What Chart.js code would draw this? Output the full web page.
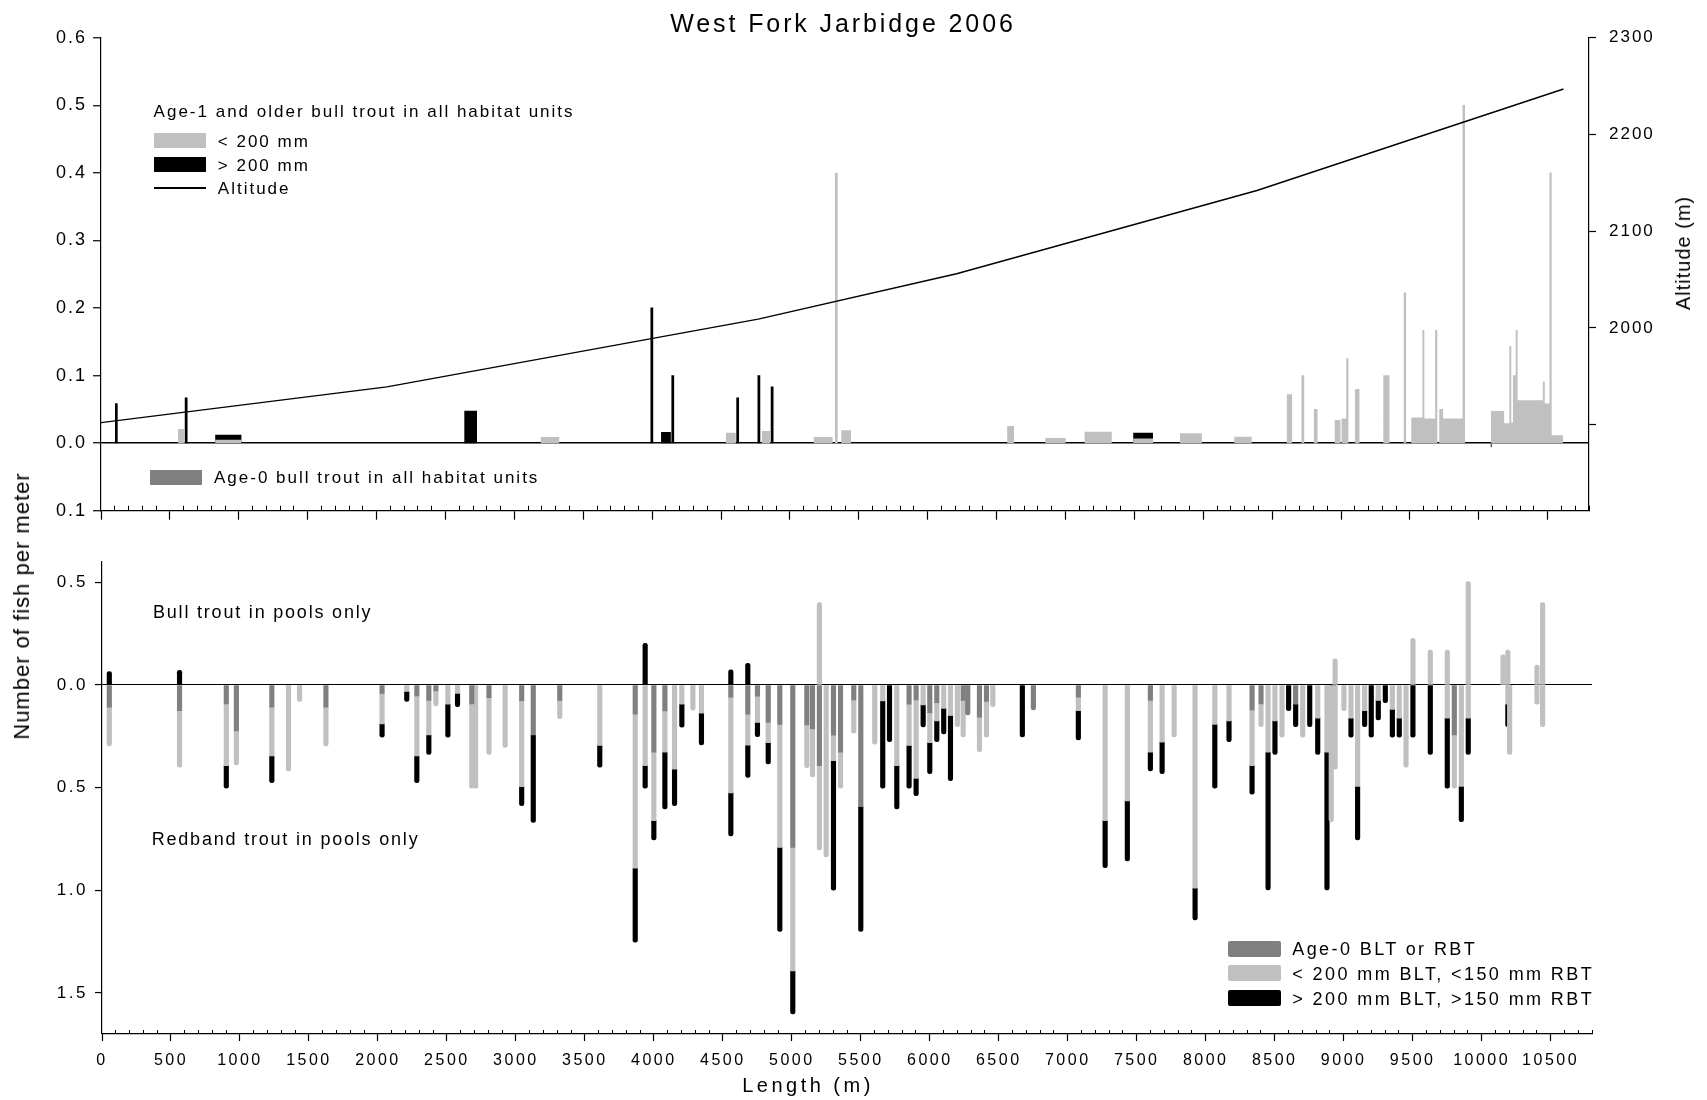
<!DOCTYPE html>
<html>
<head>
<meta charset="utf-8">
<title>West Fork Jarbidge 2006</title>
<script src="https://cdn.jsdelivr.net/npm/chart.js@4.4.1/dist/chart.umd.min.js"></script>
<style>
  html, body { margin:0; padding:0; background:#fff; }
  body { position:relative; width:1707px; height:1100px; overflow:hidden; font-family:"Liberation Sans", Arial, sans-serif; color:#000; }
  canvas { position:absolute; left:0; }
  #topChart { top:0; }
  #bottomChart { top:530px; }
  .txt { position:absolute; white-space:nowrap; line-height:1; z-index:2; }
  .sw { position:absolute; z-index:2; }
</style>
</head>
<body>
<canvas id="topChart" width="1707" height="530"></canvas>
<canvas id="bottomChart" width="1707" height="570"></canvas>

<div class="txt" style="left:843px; top:10.5px; font-size:25px; letter-spacing:2.9px; transform:translateX(-50%);">West Fork Jarbidge 2006</div>
<div class="txt" style="left:22px; top:606px; font-size:22px; letter-spacing:1px; transform:translate(-50%,-50%) rotate(-90deg);">Number of fish per meter</div>
<div class="txt" style="left:1683px; top:253px; font-size:20px; letter-spacing:1px; transform:translate(-50%,-50%) rotate(-90deg);">Altitude (m)</div>
<div class="txt" style="left:808px; top:1085px; font-size:20px; letter-spacing:3.5px; transform:translate(-50%,-50%);">Length (m)</div>

<!-- top panel legend -->
<div class="txt" style="left:153.6px; top:102.7px; font-size:17px; letter-spacing:2px;">Age-1 and older bull trout in all habitat units</div>
<div class="sw" style="left:153.6px; top:133.3px; width:52px; height:15px; background:#c0c0c0;"></div>
<div class="txt" style="left:217.8px; top:132.7px; font-size:17px; letter-spacing:2px;">&lt; 200 mm</div>
<div class="sw" style="left:153.6px; top:157px; width:52px; height:14.7px; background:#000;"></div>
<div class="txt" style="left:217.8px; top:156.7px; font-size:17px; letter-spacing:2px;">&gt; 200 mm</div>
<div class="sw" style="left:153.6px; top:187px; width:52px; height:1.5px; background:#000;"></div>
<div class="txt" style="left:217.8px; top:179.7px; font-size:17px; letter-spacing:2px;">Altitude</div>
<div class="sw" style="left:149.8px; top:470px; width:52px; height:15px; background:#808080;"></div>
<div class="txt" style="left:214px; top:469px; font-size:17px; letter-spacing:2px;">Age-0 bull trout in all habitat units</div>

<!-- bottom panel texts -->
<div class="txt" style="left:153px; top:602.9px; font-size:18px; letter-spacing:1.8px;">Bull trout in pools only</div>
<div class="txt" style="left:151.7px; top:830.2px; font-size:18px; letter-spacing:1.8px;">Redband trout in pools only</div>
<div class="sw" style="left:1227.7px; top:941px; width:53px; height:15.5px; background:#808080; border-radius:2px;"></div>
<div class="txt" style="left:1292.3px; top:940.2px; font-size:18px; letter-spacing:2.4px;">Age-0 BLT or RBT</div>
<div class="sw" style="left:1227.7px; top:965px; width:53px; height:16px; background:#c0c0c0; border-radius:2px;"></div>
<div class="txt" style="left:1292.3px; top:964.5px; font-size:18px; letter-spacing:2.4px;">&lt; 200 mm BLT, &lt;150 mm RBT</div>
<div class="sw" style="left:1227.7px; top:990px; width:53px; height:15.7px; background:#000; border-radius:2px;"></div>
<div class="txt" style="left:1292.3px; top:989.5px; font-size:18px; letter-spacing:2.4px;">&gt; 200 mm BLT, &gt;150 mm RBT</div>

<script>
// ---------------- DATA ----------------
// Axis ticks
const lengthTicks = [0,500,1000,1500,2000,2500,3000,3500,4000,4500,5000,5500,6000,6500,7000,7500,8000,8500,9000,9500,10000,10500];
const lengthMinorTicks = [100,200,300,400,600,700,800,900,1100,1200,1300,1400,1600,1700,1800,1900,2100,2200,2300,2400,2600,2700,2800,2900,3100,3200,3300,3400,3600,3700,3800,3900,4100,4200,4300,4400,4600,4700,4800,4900,5100,5200,5300,5400,5600,5700,5800,5900,6100,6200,6300,6400,6600,6700,6800,6900,7100,7200,7300,7400,7600,7700,7800,7900,8100,8200,8300,8400,8600,8700,8800,8900,9100,9200,9300,9400,9600,9700,9800,9900,10100,10200,10300,10400,10600,10700,10800];
const topYTicks = [-0.1, 0.0, 0.1, 0.2, 0.3, 0.4, 0.5, 0.6];
const altitudeTicks = [1900, 2000, 2100, 2200, 2300];
const bottomYTicks = [-1.5, -1.0, -0.5, 0.0, 0.5];

// Altitude profile (m) along the stream length (m)
const altLength = [0, 2075, 4770, 6210, 8390, 10615];
const altitude  = [1902, 1939, 2009, 2056, 2142, 2247];

// Top panel: age-1+ bull trout in all habitat units (fish/m), habitat unit start/end (m)
const topSmallStart = [558, 829, 3192, 4536, 4797, 5173, 5327, 5373, 6577, 6854, 7139, 7492, 7831, 8226, 8607, 8713, 8803, 8954, 9004, 9038, 9101, 9307, 9455, 9510, 9591, 9605, 9683, 9713, 9741, 9882, 10089, 10184, 10222, 10236, 10248, 10268, 10282, 10465, 10479, 10513, 10529];
const topSmallEnd   = [607, 1019, 3326, 4607, 4856, 5310, 5347, 5444, 6627, 7001, 7336, 7636, 7990, 8352, 8645, 8733, 8830, 8996, 9038, 9054, 9134, 9352, 9473, 9591, 9605, 9683, 9699, 9741, 9882, 9900, 10184, 10222, 10236, 10248, 10268, 10282, 10465, 10479, 10513, 10529, 10612];
const topSmallValue = [0.021, 0.005, 0.0092, 0.0153, 0.018, 0.0089, 0.40, 0.019, 0.0253, 0.0076, 0.0168, 0.007, 0.0148, 0.0094, 0.0725, 0.1006, 0.0505, 0.0343, 0.0365, 0.1255, 0.080, 0.1006, 0.2229, 0.0378, 0.1674, 0.0365, 0.1674, 0.0505, 0.0365, 0.5005, 0.0475, 0.0296, 0.1437, 0.030, 0.1006, 0.1674, 0.0636, 0.0912, 0.0587, 0.4004, 0.0118];

const topLargeStart = [101, 608, 829, 2637, 3988, 4065, 4140, 4611, 4765, 4861, 7492];
const topLargeEnd   = [121, 628, 1019, 2729, 4008, 4136, 4160, 4631, 4785, 4881, 7636];
const topLargeValue = [0.059, 0.0676, 0.0073, 0.0478, 0.2007, 0.0163, 0.1006, 0.0676, 0.1006, 0.0838, 0.0083];

const topAge0Start = [10084];
const topAge0End   = [10098];
const topAge0Value = [0.006];

// Bottom panel: pools (m) and fish/m
const poolLength = [53, 562, 901, 974, 1231, 1352, 1432, 1623, 2030, 2209, 2282, 2369, 2420, 2507, 2577, 2680, 2708, 2805, 2922, 3042, 3126, 3318, 3608, 3865, 3937, 4000, 4080, 4150, 4203, 4283, 4345, 4558, 4681, 4751, 4829, 4913, 5007, 5109, 5150, 5200, 5249, 5302, 5353, 5449, 5500, 5601, 5659, 5708, 5761, 5850, 5901, 5952, 6000, 6051, 6101, 6150, 6200, 6242, 6275, 6360, 6411, 6457, 6671, 6751, 7077, 7271, 7432, 7599, 7684, 7771, 7923, 8066, 8169, 8336, 8401, 8452, 8502, 8553, 8601, 8652, 8703, 8754, 8812, 8879, 8910, 8924, 8938, 9002, 9053, 9101, 9152, 9200, 9251, 9302, 9353, 9403, 9452, 9502, 9628, 9751, 9802, 9853, 9903, 10155, 10190, 10203, 10401, 10442];
// Redband trout (plotted downward)
const rbtAge0 = [0.109, 0.125, 0.093, 0.224, 0.109, 0, 0, 0.109, 0.041, 0, 0.054, 0.076, 0.029, 0, 0, 0.093, 0, 0.062, 0, 0.077, 0.244, 0.075, 0, 0.143, 0, 0.328, 0.127, 0, 0, 0, 0, 0.060, 0.143, 0.055, 0.183, 0.192, 0.792, 0.195, 0.214, 0.393, 0, 0.245, 0.328, 0.073, 0.593, 0, 0, 0, 0, 0.094, 0.073, 0, 0.135, 0.086, 0, 0, 0, 0.076, 0.146, 0.157, 0.080, 0, 0, 0.122, 0.060, 0, 0, 0.076, 0, 0, 0, 0, 0, 0.122, 0.093, 0, 0, 0, 0, 0.094, 0, 0, 0, 0, 0, 0, 0, 0, 0, 0, 0, 0, 0, 0, 0, 0, 0, 0, 0, 0, 0.244, 0, 0, 0, 0, 0, 0, 0];
const rbtSmall = [0.188, 0.276, 0.300, 0.166, 0.237, 0.419, 0.081, 0.188, 0.149, 0.032, 0.292, 0.168, 0.073, 0.094, 0.041, 0.410, 0.503, 0.277, 0.305, 0.418, 0, 0.089, 0.295, 0.750, 0.393, 0.333, 0.201, 0.410, 0.094, 0.123, 0.138, 0.466, 0.151, 0.128, 0.098, 0.600, 0.601, 0.208, 0.234, 0.411, 0.838, 0.124, 0.175, 0.162, 0, 0.289, 0.078, 0, 0.393, 0.201, 0.382, 0.097, 0.146, 0.089, 0.114, 0.149, 0.203, 0.177, 0, 0.168, 0.175, 0.106, 0, 0, 0.065, 0.661, 0.565, 0.252, 0.279, 0.253, 0.990, 0.192, 0.175, 0.271, 0.110, 0.328, 0.175, 0.255, 0, 0, 0.255, 0, 0.162, 0.328, 0.666, 0, 0.410, 0.125, 0.162, 0.494, 0.125, 0, 0.076, 0, 0.119, 0.162, 0.401, 0, 0, 0.162, 0.259, 0.494, 0.162, 0, 0.094, 0.338, 0.094, 0.203];
const rbtLarge = [0, 0, 0.110, 0, 0.130, 0, 0, 0, 0.065, 0.049, 0.130, 0.094, 0, 0.161, 0.065, 0, 0, 0, 0, 0.093, 0.426, 0, 0.106, 0.360, 0.110, 0.094, 0.276, 0.178, 0.112, 0, 0.154, 0.209, 0.157, 0.069, 0.104, 0.409, 0.209, 0, 0, 0, 0, 0.631, 0, 0, 0.608, 0, 0.425, 0.276, 0.211, 0.208, 0.084, 0.108, 0.151, 0.101, 0.125, 0.317, 0, 0, 0, 0, 0, 0, 0.253, 0, 0.143, 0.229, 0.292, 0.091, 0.153, 0, 0.154, 0.311, 0.101, 0.139, 0, 0.670, 0.163, 0, 0.125, 0.109, 0, 0.203, 0.176, 0.670, 0, 0.338, 0, 0, 0.093, 0.261, 0.078, 0.255, 0.094, 0.086, 0.136, 0.093, 0, 0.255, 0.338, 0.341, 0, 0.172, 0.176, 0, 0.109, 0, 0, 0];
// Bull trout (plotted upward)
const bullLength = [53, 562, 3937, 4558, 4681, 5200, 8938, 9502, 9628, 9751, 9903, 10155, 10190, 10401, 10442];
const bullSmall  = [0, 0, 0, 0, 0, 0.401, 0.127, 0.227, 0.170, 0.170, 0.503, 0.146, 0.170, 0.097, 0.401];
const bullLarge  = [0.065, 0.071, 0.203, 0.073, 0.105, 0, 0, 0, 0, 0, 0, 0, 0, 0, 0];

// ---------------- HELPERS ----------------
function outline(starts, ends, tops) {
  const pts = [];
  starts.forEach((s, i) => {
    pts.push({x: s, y: 0}, {x: s, y: tops[i]}, {x: ends[i], y: tops[i]}, {x: ends[i], y: 0});
  });
  return pts;
}
// black bars sit on top of the grey bar of the same unit
const topLargeTotal = topLargeStart.map((s, i) => {
  const j = topSmallStart.indexOf(s);
  return topLargeValue[i] + (j >= 0 && topSmallEnd[j] === topLargeEnd[i] ? topSmallValue[j] : 0);
});

const spacingPlugin = {
  id: 'spacing',
  beforeDraw(chart, args, opts) { chart.ctx.letterSpacing = opts.value || '0px'; },
  afterDraw(chart) { chart.ctx.letterSpacing = '0px'; }
};
Chart.register(spacingPlugin);
Chart.defaults.font.family = '"Liberation Sans", Arial, sans-serif';
Chart.defaults.color = '#000';

const zeroLine = (w) => ({
  color: c => (c.tick && Math.abs(c.tick.value) < 1e-9) ? '#000' : 'rgba(0,0,0,0)',
  lineWidth: w, tickColor: '#000', tickWidth: 1.2, drawOnChartArea: true, drawTicks: true
});
const setTicks = (arr) => (s) => { s.ticks = arr.map(v => ({value: v})); };

// ---------------- TOP CHART ----------------
const polyCommon = {xAxisID: 'x', yAxisID: 'y', showLine: true, borderColor: 'rgba(0,0,0,0)', borderWidth: 0, pointRadius: 0, fill: 'origin', tension: 0};
new Chart(document.getElementById('topChart'), {
  type: 'scatter',
  data: {
    datasets: [
      {label: 'Altitude', data: altLength.map((x, i) => ({x, y: altitude[i]})), xAxisID: 'x', yAxisID: 'y2',
       showLine: true, borderColor: '#000', borderWidth: 1.4, pointRadius: 0, fill: false, order: 0},
      Object.assign({label: '< 200 mm', data: outline(topSmallStart, topSmallEnd, topSmallValue), backgroundColor: '#c0c0c0', order: 1}, polyCommon),
      Object.assign({label: '> 200 mm', data: outline(topLargeStart, topLargeEnd, topLargeTotal), backgroundColor: '#000', order: 2}, polyCommon),
      Object.assign({label: 'Age-0', data: outline(topAge0Start, topAge0End, topAge0Value.map(v => -v)), backgroundColor: '#606060', order: 3}, polyCommon)
    ]
  },
  options: {
    responsive: false, animation: false, events: [],
    layout: {padding: {left: 0, right: 0, top: 37.7, bottom: 7.3}},
    plugins: {legend: {display: false}, tooltip: {enabled: false}, spacing: {value: '2px'}},
    scales: {
      xMinor: {type: 'linear', position: 'bottom', weight: 0, min: 0, max: 10800, offset: false,
        afterBuildTicks: setTicks(lengthMinorTicks),
        afterFit: s => { s.height = 0; s.paddingLeft = 0; s.paddingRight = 0; },
        ticks: {display: false},
        grid: {offset: false, drawOnChartArea: false, drawTicks: true, tickLength: -5, tickColor: '#000', tickWidth: 1},
        border: {display: false}},
      x: {type: 'linear', position: 'bottom', weight: 1, min: 0, max: 10800, offset: false,
        afterBuildTicks: setTicks(lengthTicks),
        afterFit: s => { s.height = 12; s.paddingLeft = 0; s.paddingRight = 0; },
        ticks: {display: false},
        grid: {offset: false, drawOnChartArea: false, drawTicks: true, tickLength: 9, tickColor: '#000', tickWidth: 1.2},
        border: {display: true, color: '#000', width: 1.2}},
      y: {type: 'linear', position: 'left', min: -0.1, max: 0.6,
        afterBuildTicks: setTicks(topYTicks),
        afterFit: s => { s.width = 101; s.paddingTop = 0; s.paddingBottom = 0; },
        ticks: {callback: v => Math.abs(v).toFixed(1), font: {size: 18}, padding: 6, color: '#000'},
        grid: Object.assign(zeroLine(1.5), {tickLength: 8}),
        border: {display: true, color: '#000', width: 1.2}},
      y2: {type: 'linear', position: 'right', min: 1811, max: 2300,
        afterBuildTicks: setTicks(altitudeTicks),
        afterFit: s => { s.width = 118; s.paddingTop = 0; s.paddingBottom = 0; },
        ticks: {callback: v => v === 1900 ? '' : String(v), font: {size: 17}, padding: 13, color: '#000'},
        grid: {drawOnChartArea: false, drawTicks: true, tickLength: 7, tickColor: '#000', tickWidth: 1.2},
        border: {display: true, color: '#000', width: 1.2}}
    }
  }
});

// ---------------- BOTTOM CHART ----------------
const barCommon = {xAxisID: 'x', yAxisID: 'y', stack: 'pool', barThickness: 4.5, borderRadius: 2.25, borderSkipped: 'start', borderWidth: 0};
const down = arr => poolLength.map((x, i) => ({x, y: arr[i] ? -arr[i] : null}));
const up = arr => bullLength.map((x, i) => ({x, y: arr[i] ? arr[i] : null}));
new Chart(document.getElementById('bottomChart'), {
  type: 'bar',
  data: {
    datasets: [
      Object.assign({label: 'Age-0 RBT', data: down(rbtAge0), backgroundColor: '#808080'}, barCommon),
      Object.assign({label: '<150 mm RBT', data: down(rbtSmall), backgroundColor: '#c0c0c0'}, barCommon),
      Object.assign({label: '>150 mm RBT', data: down(rbtLarge), backgroundColor: '#000'}, barCommon),
      Object.assign({label: '<200 mm BLT', data: up(bullSmall), backgroundColor: '#c0c0c0'}, barCommon),
      Object.assign({label: '>200 mm BLT', data: up(bullLarge), backgroundColor: '#000'}, barCommon)
    ]
  },
  options: {
    responsive: false, animation: false, events: [],
    layout: {padding: {left: 0, right: 115, top: 31.7, bottom: 21}},
    plugins: {legend: {display: false}, tooltip: {enabled: false}, spacing: {value: '2.5px'}},
    scales: {
      xMinor: {type: 'linear', position: 'bottom', weight: 0, min: 0, max: 10800, offset: false,
        afterBuildTicks: setTicks(lengthMinorTicks),
        afterFit: s => { s.height = 0; s.paddingLeft = 0; s.paddingRight = 0; },
        ticks: {display: false},
        grid: {offset: false, drawOnChartArea: false, drawTicks: true, tickLength: -4, tickColor: '#000', tickWidth: 1},
        border: {display: false}},
      x: {type: 'linear', position: 'bottom', weight: 1, min: 0, max: 10800, offset: false, stacked: true,
        afterBuildTicks: setTicks(lengthTicks),
        afterFit: s => { s.height = 45; s.paddingLeft = 0; s.paddingRight = 0; },
        ticks: {display: true, autoSkip: false, maxRotation: 0, font: {size: 16}, padding: 10, color: '#000', callback: v => String(v)},
        grid: {offset: false, drawOnChartArea: false, drawTicks: true, tickLength: 7, tickColor: '#000', tickWidth: 1.2},
        border: {display: true, color: '#000', width: 1.2}},
      y: {type: 'linear', position: 'left', min: -1.7, max: 0.6, stacked: true,
        afterBuildTicks: setTicks(bottomYTicks),
        afterFit: s => { s.width = 102; s.paddingTop = 0; s.paddingBottom = 0; },
        ticks: {callback: v => Math.abs(v).toFixed(1), font: {size: 17}, padding: 7, color: '#000'},
        grid: Object.assign(zeroLine(1.1), {tickLength: 7}),
        border: {display: true, color: '#000', width: 1.2}}
    }
  }
});
</script>
</body>
</html>
